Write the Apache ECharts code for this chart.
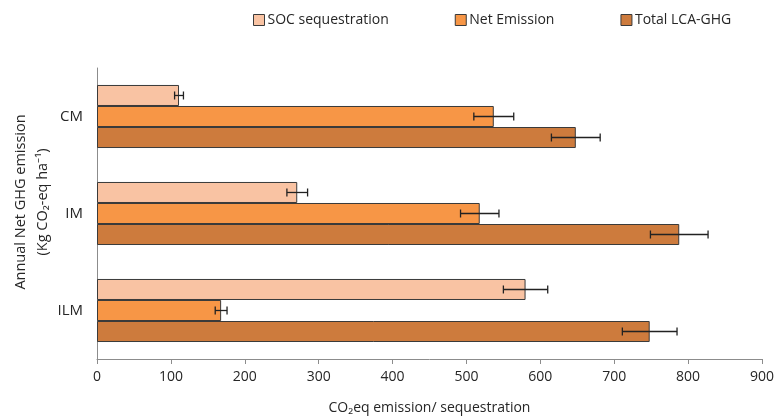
<!DOCTYPE html>
<html>
<head>
<meta charset="utf-8">
<script src="https://cdn.jsdelivr.net/npm/echarts@6/dist/echarts.min.js"></script>
<style>html,body{margin:0;padding:0;background:#fff}#c{width:776px;height:416px}</style>
</head>
<body>
<div id="c"></div>
<script>
const categories = ['CM', 'IM', 'ILM'];
const seriesNames = ['SOC sequestration', 'Net Emission', 'Total LCA-GHG'];
const socValues = [111, 271, 580];
const socErrors = [6, 14, 30];
const netValues = [537, 518, 168];
const netErrors = [27, 26, 8];
const totalValues = [648, 788, 748];
const totalErrors = [33, 39, 37];
const xTicks = [0, 100, 200, 300, 400, 500, 600, 700, 800, 900];

const colors = ['#F9C3A3', '#F79646', '#CD7B3D'];
const FONT = 'Open Sans';
const values = [socValues, netValues, totalValues];
const errors = [socErrors, netErrors, totalErrors];
const CAT_GAP = 0.35;

const chart = echarts.init(document.getElementById('c'), null, {renderer: 'canvas'});

const barSeries = seriesNames.map((name, i) => ({
  name: name,
  type: 'bar',
  data: values[i],
  barGap: '0%',
  barCategoryGap: (CAT_GAP * 100) + '%',
  itemStyle: {color: colors[i], borderColor: '#3a3a3a', borderWidth: 1},
  emphasis: {disabled: true},
  z: 2
}));

const errSeries = seriesNames.map((name, i) => ({
  type: 'custom',
  name: name + ' err',
  data: categories.map((c, k) => [values[i][k], k, errors[i][k]]),
  encode: {x: 0, y: 1},
  z: 5,
  silent: true,
  renderItem: function (params, api) {
    const v = api.value(0), k = api.value(1), e = api.value(2);
    const band = api.size([0, 1])[1];
    const group = band * (1 - CAT_GAP);
    const bh = group / 3;
    const off = -group / 2 + bh * (i + 0.5);
    const p1 = api.coord([v - e, k]);
    const p2 = api.coord([v + e, k]);
    const y = p1[1] + off;
    const cap = 4;
    const st = {stroke: '#222', lineWidth: 1.3};
    return {
      type: 'group',
      children: [
        {type: 'line', shape: {x1: p1[0], y1: y, x2: p2[0], y2: y}, style: st},
        {type: 'line', shape: {x1: p1[0], y1: y - cap, x2: p1[0], y2: y + cap}, style: st},
        {type: 'line', shape: {x1: p2[0], y1: y - cap, x2: p2[0], y2: y + cap}, style: st}
      ]
    };
  }
}));

chart.setOption({
  animation: false,
  textStyle: {fontFamily: FONT},
  legend: {
    data: seriesNames,
    top: 8,
    left: 248,
    itemWidth: 11,
    itemHeight: 11,
    itemGap: 66,
    icon: 'rect',
    itemStyle: {borderColor: '#3a3a3a', borderWidth: 1},
    textStyle: {fontFamily: FONT, fontSize: 14, color: '#262626', padding: [0, 0, 0, -2]}
  },
  grid: {left: 97, right: 14, top: 68, bottom: 57, containLabel: false, outerBoundsMode: 'none'},
  xAxis: {
    type: 'value',
    min: 0,
    max: 900,
    interval: 100,
    name: 'CO\u2082eq emission/ sequestration',
    nameLocation: 'middle',
    nameGap: 42,
    nameTextStyle: {fontFamily: FONT, fontSize: 14, color: '#262626'},
    axisLine: {show: true, lineStyle: {color: '#8c8c8c', width: 1}},
    axisTick: {show: true, length: 5, lineStyle: {color: '#8c8c8c'}},
    axisLabel: {fontFamily: FONT, fontSize: 14, color: '#262626', margin: 11,
      formatter: v => xTicks.indexOf(v) >= 0 ? String(v) : ''},
    splitLine: {show: false}
  },
  yAxis: {
    type: 'category',
    data: categories,
    inverse: true,
    axisLine: {show: true, lineStyle: {color: '#8c8c8c', width: 1}},
    axisTick: {show: false},
    axisLabel: {fontFamily: FONT, fontSize: 15, color: '#262626', margin: 14},
    splitLine: {show: false}
  },
  graphic: [
    {type: 'text', rotation: Math.PI / 2, x: 21, y: 202,
      style: {text: 'Annual Net GHG emission', font: '14.5px "Open Sans"', fill: '#262626', textAlign: 'center', textVerticalAlign: 'middle'}},
    {type: 'text', rotation: Math.PI / 2, x: 43, y: 202,
      style: {text: '(Kg CO\u2082-eq ha\u207B\u00B9)', font: '14.5px "Open Sans"', fill: '#262626', textAlign: 'center', textVerticalAlign: 'middle'}}
  ],
  series: barSeries.concat(errSeries)
});
</script>
</body>
</html>
